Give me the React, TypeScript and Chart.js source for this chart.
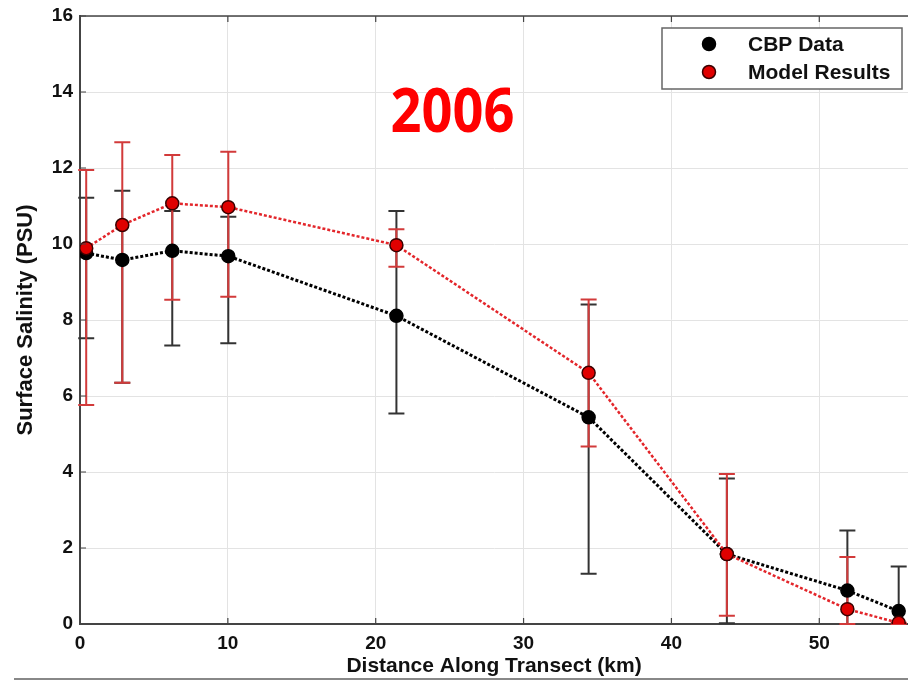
import React, { useEffect, useRef } from 'react';
import { Chart, registerables } from 'chart.js';

Chart.register(...registerables);

// ---- data ----
const distanceKm = [0.42, 2.86, 6.24, 10.03, 21.4, 34.4, 43.75, 51.9, 55.37];
const cbpSalinity = [9.76, 9.58, 9.82, 9.68, 8.11, 5.44, 1.84, 0.88, 0.34];
const cbpUpper = [11.22, 11.4, 10.87, 10.72, 10.87, 8.41, 3.83, 2.46, 1.51];
const cbpLower = [7.52, 6.35, 7.33, 7.39, 5.54, 1.32, 0.02, 0, 0];
const modelSalinity = [9.89, 10.5, 11.07, 10.97, 9.97, 6.61, 1.84, 0.39, 0.03];
const modelUpper = [11.95, 12.68, 12.34, 12.43, 10.39, 8.54, 3.95, 1.76, 0.03];
const modelLower = [5.76, 6.35, 8.53, 8.61, 9.4, 4.67, 0.22, 0, 0];
const xTickValues = [0, 10, 20, 30, 40, 50];
const yTickValues = [0, 2, 4, 6, 8, 10, 12, 14, 16];
const seriesLabels = ['CBP Data', 'Model Results'];
const yearLabel = '2006';
const xAxisTitle = 'Distance Along Transect (km)';
const yAxisTitle = 'Surface Salinity (PSU)';

const FONT = '"Liberation Sans", Arial, sans-serif';
const CBP_COLOR = '#000000';
const MODEL_FILL = '#e00000';
const MODEL_LINE = '#e3262b';
const CBP_BAR = '#333333';
const MODEL_BAR = '#d23a3a';
const VIEW_W = 908;
const VIEW_H = 682;

const decorPlugin = {
  id: 'decor',
  beforeDatasetsDraw(chart: any) {
    const { ctx, scales } = chart;
    const x = scales.x;
    const y = scales.y;
    const drawBars = (lo: number[], hi: number[], color: string) => {
      ctx.save();
      ctx.strokeStyle = color;
      ctx.lineWidth = 2;
      const cap = 8;
      distanceKm.forEach((d, i) => {
        const px = x.getPixelForValue(d);
        const pLo = y.getPixelForValue(lo[i]);
        const pHi = y.getPixelForValue(hi[i]);
        ctx.beginPath();
        ctx.moveTo(px, pLo);
        ctx.lineTo(px, pHi);
        ctx.moveTo(px - cap, pLo);
        ctx.lineTo(px + cap, pLo);
        ctx.moveTo(px - cap, pHi);
        ctx.lineTo(px + cap, pHi);
        ctx.stroke();
      });
      ctx.restore();
    };
    drawBars(cbpLower, cbpUpper, CBP_BAR);
    drawBars(modelLower, modelUpper, MODEL_BAR);
  },
  afterDraw(chart: any) {
    const { ctx, chartArea, scales } = chart;
    const x = scales.x;
    const y = scales.y;
    const { left, right, top, bottom } = chartArea;
    ctx.save();
    // top border
    ctx.strokeStyle = '#444';
    ctx.lineWidth = 1.5;
    ctx.beginPath();
    ctx.moveTo(left, top);
    ctx.lineTo(right, top);
    ctx.stroke();
    // inward tick marks
    ctx.lineWidth = 1.2;
    ctx.strokeStyle = '#444';
    ctx.beginPath();
    xTickValues.forEach((v) => {
      const px = x.getPixelForValue(v);
      ctx.moveTo(px, top);
      ctx.lineTo(px, top + 6);
      ctx.moveTo(px, bottom);
      ctx.lineTo(px, bottom - 6);
    });
    yTickValues.forEach((v) => {
      const py = y.getPixelForValue(v);
      ctx.moveTo(left, py);
      ctx.lineTo(left + 6, py);
    });
    ctx.stroke();

    // legend box
    const bx = right - 246;
    const by = top + 12;
    const bw = 240;
    const bh = 61;
    ctx.fillStyle = '#ffffff';
    ctx.fillRect(bx, by, bw, bh);
    ctx.strokeStyle = '#666';
    ctx.lineWidth = 1.5;
    ctx.strokeRect(bx, by, bw, bh);
    const rows = [
      { label: seriesLabels[0], fill: CBP_COLOR, stroke: CBP_COLOR },
      { label: seriesLabels[1], fill: MODEL_FILL, stroke: '#3a0000' },
    ];
    rows.forEach((r, i) => {
      const cy = by + 16 + i * 28;
      ctx.beginPath();
      ctx.arc(bx + 47, cy, 6.5, 0, Math.PI * 2);
      ctx.fillStyle = r.fill;
      ctx.fill();
      ctx.lineWidth = 1.5;
      ctx.strokeStyle = r.stroke;
      ctx.stroke();
      ctx.fillStyle = '#111';
      ctx.font = `bold 21px ${FONT}`;
      ctx.textAlign = 'left';
      ctx.textBaseline = 'middle';
      ctx.fillText(r.label, bx + 86, cy + 1);
    });

    // year label
    ctx.font = `bold 60px "Open Sans", ${FONT}`;
    ctx.fillStyle = '#ff0000';
    ctx.textAlign = 'center';
    ctx.textBaseline = 'alphabetic';
    const w = ctx.measureText(yearLabel).width;
    const sx = 124 / w;
    ctx.save();
    ctx.translate(452.5, 131.5);
    ctx.scale(sx, 1);
    ctx.fillText(yearLabel, 0, 0);
    ctx.restore();

    // bottom slide line
    ctx.strokeStyle = '#888';
    ctx.lineWidth = 2;
    ctx.beginPath();
    ctx.moveTo(14, chart.height - 3);
    ctx.lineTo(chart.width, chart.height - 3);
    ctx.stroke();
    ctx.restore();
  },
};

export default function App() {
  const canvasRef = useRef<HTMLCanvasElement | null>(null);

  useEffect(() => {
    if (!canvasRef.current) return;
    const chart = new Chart(canvasRef.current, {
      type: 'line',
      data: {
        datasets: [
          {
            label: seriesLabels[0],
            data: distanceKm.map((d, i) => ({ x: d, y: cbpSalinity[i] })),
            borderColor: CBP_COLOR,
            borderWidth: 3,
            borderDash: [3, 2],
            pointRadius: 6.5,
            pointBackgroundColor: CBP_COLOR,
            pointBorderColor: CBP_COLOR,
            pointBorderWidth: 1.5,
            tension: 0,
            order: 1,
          },
          {
            label: seriesLabels[1],
            data: distanceKm.map((d, i) => ({ x: d, y: modelSalinity[i] })),
            borderColor: MODEL_LINE,
            borderWidth: 2.5,
            borderDash: [3, 2],
            pointRadius: 6.5,
            pointBackgroundColor: MODEL_FILL,
            pointBorderColor: '#3a0000',
            pointBorderWidth: 1.5,
            tension: 0,
            order: 0,
          },
        ],
      },
      options: {
        responsive: false,
        animation: false,
        layout: { padding: { top: 16, left: 0, right: 0, bottom: 0 } },
        plugins: {
          legend: { display: false },
          tooltip: { enabled: false },
        },
        scales: {
          x: {
            type: 'linear',
            min: 0,
            max: 56,
            afterBuildTicks: (s: any) => {
              s.ticks = xTickValues.map((v) => ({ value: v }));
            },
            afterFit: (s: any) => {
              s.height = 58;
              s.paddingLeft = 0;
              s.paddingRight = 0;
            },
            grid: { color: '#e3e3e3', drawTicks: false, lineWidth: 1 },
            border: { color: '#444', width: 2 },
            ticks: {
              padding: 8,
              color: '#111',
              font: { family: FONT, weight: 'bold', size: 19 },
            },
            title: {
              display: true,
              text: xAxisTitle,
              color: '#111',
              font: { family: FONT, weight: 'bold', size: 21 },
              padding: { top: 0, bottom: 3 },
            },
          },
          y: {
            type: 'linear',
            min: 0,
            max: 16,
            afterBuildTicks: (s: any) => {
              s.ticks = yTickValues.map((v) => ({ value: v }));
            },
            afterFit: (s: any) => {
              s.width = 80;
              s.paddingTop = 0;
              s.paddingBottom = 0;
            },
            grid: { color: '#e3e3e3', drawTicks: false, lineWidth: 1 },
            border: { color: '#444', width: 2 },
            ticks: {
              padding: 7,
              color: '#111',
              font: { family: FONT, weight: 'bold', size: 19 },
            },
            title: {
              display: true,
              text: yAxisTitle,
              color: '#111',
              font: { family: FONT, weight: 'bold', size: 22 },
              padding: { top: 13, bottom: 0 },
            },
          },
        },
      },
      plugins: [decorPlugin],
    } as any);
    return () => chart.destroy();
  }, []);

  // the canvas is a little wider than the view so the plot's right edge is cropped at the
  // window border, as in the reference
  return (
    <div
      style={{
        position: 'absolute',
        left: 0,
        top: 0,
        width: VIEW_W,
        height: VIEW_H,
        overflow: 'hidden',
        background: '#fff',
      }}
    >
      <canvas ref={canvasRef} width={VIEW_W + 8} height={VIEW_H} style={{ display: 'block' }} />
    </div>
  );
}
